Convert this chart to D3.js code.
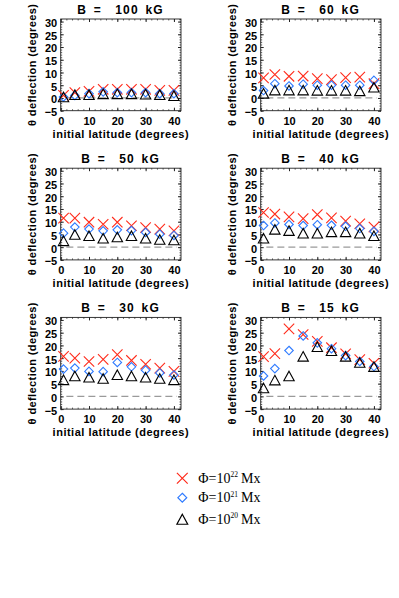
<!DOCTYPE html>
<html>
<head>
<meta charset="utf-8">
<script src="https://cdn.jsdelivr.net/npm/d3@7"></script>
<style>
  body { margin: 0; background: #fff; }
  svg { display: block; }
</style>
</head>
<body>
<div id="chart"></div>
<script>

//
// data
//
var fieldStrength = [100, 60, 50, 40, 30, 15];           // kG, one panel each
var latitude = [1, 5, 10, 15, 20, 25, 30, 35, 40];      // initial latitude (deg)

// theta deflection (deg), one row per panel, Phi = 1e22 Mx
var flux22 = [
  [1.0, 2.1, 2.6, 3.4, 3.4, 3.4, 3.4, 3.0, 3.0],
  [7.9, 9.2, 8.5, 8.6, 7.6, 7.2, 8.0, 8.2, 5.6],
  [11.4, 11.4, 9.8, 9.0, 9.8, 8.4, 7.7, 7.1, 6.4],
  [13.6, 13.0, 11.9, 11.2, 12.8, 11.5, 10.2, 9.2, 7.9],
  [15.7, 15.0, 13.7, 14.5, 16.4, 14.1, 12.6, 11.1, 9.8],
  [15.6, 16.8, 26.5, 24.3, 21.6, 19.1, 16.7, 14.4, 13.0]
];
// Phi = 1e21 Mx
var flux21 = [
  [0.4, 1.0, 1.7, 2.4, 2.1, 2.1, 2.1, 1.7, 1.7],
  [2.9, 5.6, 4.7, 5.4, 5.0, 5.0, 5.0, 5.0, 6.9],
  [5.5, 7.9, 7.1, 6.4, 6.8, 6.5, 5.8, 5.1, 4.6],
  [8.5, 9.5, 8.9, 8.5, 8.8, 8.6, 8.2, 7.3, 6.2],
  [10.7, 11.1, 9.8, 9.7, 13.3, 11.6, 10.3, 9.2, 8.4],
  [8.0, 10.9, 18.0, 23.7, 21.0, 18.7, 16.0, 13.7, 11.7]
];
// Phi = 1e20 Mx
var flux20 = [
  [0.4, 1.3, 1.3, 1.6, 1.6, 1.6, 1.5, 1.3, 0.9],
  [1.8, 3.1, 3.1, 3.1, 3.0, 3.0, 3.0, 2.8, 4.2],
  [2.5, 5.0, 4.5, 3.5, 4.0, 4.5, 3.5, 3.0, 2.8],
  [3.5, 7.0, 6.5, 5.5, 5.5, 6.0, 6.0, 5.5, 4.5],
  [6.5, 8.0, 7.5, 7.0, 8.5, 8.0, 7.5, 7.0, 6.5],
  [3.3, 6.4, 8.0, 15.7, 19.5, 17.9, 15.7, 13.3, 11.7]
];

var yTicks = [-5, 0, 5, 10, 15, 20, 25, 30];
var xTicks = [0, 10, 20, 30, 40];
var fluxExponent = ["22", "21", "20"];

//
// setup
//
var width = 399,
    height = 598;

var svg = d3.select("#chart")
    .append("svg")
    .attr("width", width)
    .attr("height", height);

var boxW = 120.3,
    boxH = 91.7,
    colLeft = [60.7, 260.7],
    rowTop = [19, 168.2, 317.4];

var x = d3.scaleLinear().domain([0, 42.5]).range([0, boxW]);
var y = d3.scaleLinear().domain([-5, 31]).range([boxH, 0]);

var boldFont = "'Liberation Sans', Arial, Helvetica, sans-serif";

var series = [
  { values: flux22, kind: "cross",    color: "#ff2a1a" },
  { values: flux21, kind: "diamond",  color: "#2f7bff" },
  { values: flux20, kind: "triangle", color: "#000000" }
];

//
// marker shapes
//
function markerPath(kind, s) {
  if (kind == "cross") {
    return "M" + (-s) + "," + (-s) + "L" + s + "," + s +
           "M" + (-s) + "," + s + "L" + s + "," + (-s);
  } else if (kind == "diamond") {
    var d = s * 0.82;
    return "M0," + (-d) + "L" + d + ",0L0," + d + "L" + (-d) + ",0Z";
  } else {
    var hh = s * 0.92;
    return "M0," + (-hh) + "L" + s + "," + hh + "L" + (-s) + "," + hh + "Z";
  }
}

//
// panels
//
fieldStrength.forEach(function(B, i) {
  var g = svg.append("g")
      .attr("transform", "translate(" + colLeft[i % 2] + "," + rowTop[Math.floor(i / 2)] + ")");

  // minor ticks
  var minorY = d3.range(-5, 32, 1), minorX = d3.range(0, 43, 2);
  [d3.axisLeft(y), d3.axisRight(y)].forEach(function(ax, k) {
    g.append("g")
      .attr("transform", k ? "translate(" + boxW + ",0)" : null)
      .call(ax.tickValues(minorY).tickSize(-1.5).tickFormat(""))
      .call(function(a) { a.select(".domain").remove(); a.selectAll("line").attr("stroke", "#222").attr("stroke-width", 0.7); });
  });
  [d3.axisBottom(x), d3.axisTop(x)].forEach(function(ax, k) {
    g.append("g")
      .attr("transform", k ? null : "translate(0," + boxH + ")")
      .call(ax.tickValues(minorX).tickSize(-1.5).tickFormat(""))
      .call(function(a) { a.select(".domain").remove(); a.selectAll("line").attr("stroke", "#222").attr("stroke-width", 0.7); });
  });

  // major ticks + labels
  g.append("g")
    .call(d3.axisLeft(y).tickValues(yTicks).tickSizeInner(-3).tickSizeOuter(0).tickPadding(3.5))
    .call(function(a) {
      a.select(".domain").remove();
      a.selectAll("line").attr("stroke", "#222");
      a.selectAll("text")
        .attr("dy", "0.45em")
        .style("font", "bold 11px " + boldFont)
        .attr("fill", "#000");
    });
  g.append("g")
    .attr("transform", "translate(" + boxW + ",0)")
    .call(d3.axisRight(y).tickValues(yTicks).tickSizeInner(-3).tickSizeOuter(0).tickFormat(""))
    .call(function(a) { a.select(".domain").remove(); a.selectAll("line").attr("stroke", "#222"); });
  g.append("g")
    .attr("transform", "translate(0," + boxH + ")")
    .call(d3.axisBottom(x).tickValues(xTicks).tickSizeInner(-3).tickSizeOuter(0).tickPadding(6.5))
    .call(function(a) {
      a.select(".domain").remove();
      a.selectAll("line").attr("stroke", "#222");
      a.selectAll("text")
        .style("font", "bold 11px " + boldFont)
        .attr("fill", "#000");
    });
  g.append("g")
    .call(d3.axisTop(x).tickValues(xTicks).tickSizeInner(-3).tickSizeOuter(0).tickFormat(""))
    .call(function(a) { a.select(".domain").remove(); a.selectAll("line").attr("stroke", "#222"); });

  // frame
  g.append("rect")
    .attr("x", 0).attr("y", 0)
    .attr("width", boxW).attr("height", boxH)
    .attr("fill", "none")
    .attr("stroke", "#222")
    .attr("stroke-width", 0.9);

  // zero line
  g.append("line")
    .attr("x1", x(2)).attr("x2", x(41))
    .attr("y1", y(0)).attr("y2", y(0))
    .attr("stroke", "#9a9a9a")
    .attr("stroke-width", 1.2)
    .attr("stroke-dasharray", "7,4");

  // points
  series.forEach(function(s) {
    g.append("g").selectAll("path")
      .data(s.values[i])
      .enter()
      .append("path")
      .attr("transform", function(d, j) { return "translate(" + x(latitude[j]) + "," + y(d) + ")"; })
      .attr("d", markerPath(s.kind, 5.2))
      .attr("fill", "none")
      .attr("stroke", s.color)
      .attr("stroke-width", 1.1);
  });

  // title
  g.append("text")
    .attr("x", boxW / 2 - 0.3)
    .attr("y", -5)
    .attr("text-anchor", "middle")
    .style("font", "bold 12px " + boldFont)
    .style("letter-spacing", "1.2px")
    .style("word-spacing", "2.1px")
    .style("white-space", "pre")
    .text("B =  " + B + " kG");

  // axis titles
  g.append("text")
    .attr("x", boxW / 2)
    .attr("y", boxH + 26.8)
    .attr("text-anchor", "middle")
    .style("font", "bold 11px " + boldFont)
    .style("letter-spacing", "0.5px")
    .text("initial latitude (degrees)");

  g.append("text")
    .attr("transform", "translate(-24.7," + (boxH / 2) + ") rotate(-90)")
    .attr("text-anchor", "middle")
    .style("font", "bold 11px " + boldFont)
    .style("letter-spacing", "0.4px")
    .text("\u03b8 deflection (degrees)");
});

//
// legend
//
var legend = svg.append("g").attr("transform", "translate(182.3,478.3)");
var legendRows = [0, 19.4, 41];
series.forEach(function(s, k) {
  var row = legend.append("g").attr("transform", "translate(0," + legendRows[k] + ")");
  row.append("path")
    .attr("d", markerPath(s.kind, 5.4))
    .attr("fill", "none")
    .attr("stroke", s.color)
    .attr("stroke-width", 1.2);
  var t = row.append("text")
    .attr("x", 16)
    .attr("y", 4.5)
    .style("font", "14px 'Liberation Serif', 'Times New Roman', serif")
    .attr("fill", "#000");
  t.append("tspan").text("\u03a6=10");
  t.append("tspan")
    .attr("dy", -5.5)
    .style("font-size", "7.5px")
    .text(fluxExponent[k]);
  t.append("tspan")
    .attr("dy", 5.5)
    .attr("dx", 3)
    .text("Mx");
});
</script>
</body>
</html>
